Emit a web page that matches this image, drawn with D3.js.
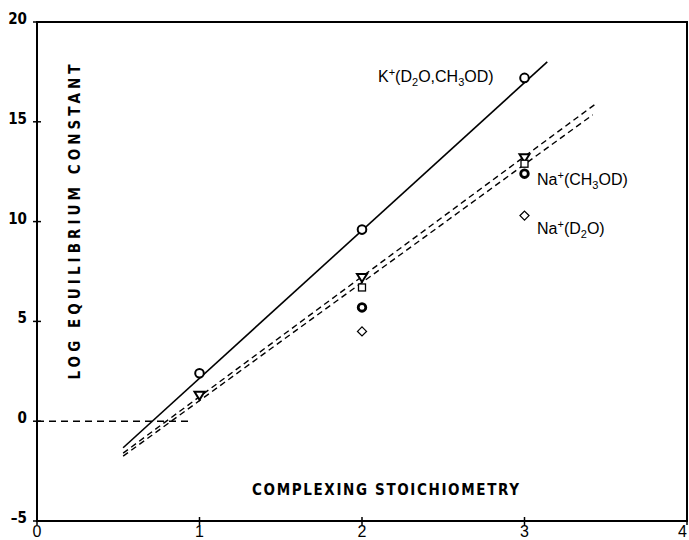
<!DOCTYPE html>
<html lang="en">
<head>
  <meta charset="utf-8">
  <script src="https://d3js.org/d3.v7.min.js"></script>
  <style>
    body { margin: 0; background: #fff; }
    .tickY { font-family: "Liberation Sans Narrow", "DejaVu Sans Condensed", sans-serif; font-weight: bold; font-size: 15px; }
    .tickX { font-family: "Liberation Sans", sans-serif; font-size: 16px; }
    .axisTitle { font-family: "Liberation Sans Narrow", "DejaVu Sans Condensed", sans-serif; font-weight: bold; font-size: 15px; }
    .note { font-family: "Liberation Sans", sans-serif; font-size: 16px; }
  </style>
</head>
<body>
  <script>
    // tick labels
    var xTicks = [0, 1, 2, 3, 4];
    var yTicks = [-5, 0, 5, 10, 15, 20];

    // measured points, [stoichiometry, log K]
    var kCircle = [[1, 2.4], [2, 9.6], [3, 17.2]];
    var naTriangle = [[1, 1.3], [2, 7.2], [3, 13.2]];
    var naSquare = [[2, 6.7], [3, 12.9]];
    var naBoldCircle = [[2, 5.7], [3, 12.4]];
    var naDiamond = [[2, 4.5], [3, 10.3]];

    // fitted lines
    var kLine = [[0.53, -1.33], [3.14, 18.0]];
    var naLineUpper = [[0.53, -1.6], [3.43, 15.85]];
    var naLineLower = [[0.53, -1.75], [3.42, 15.35]];
    var zeroLine = [[0, 0], [0.95, 0]];

    // labels
    var labels = [
      { x: 378, y: 77, parts: [["K", ""], ["+", "sup"], ["(D", ""], ["2", "sub"], ["O,CH", ""], ["3", "sub"], ["OD)", ""]] },
      { x: 537, y: 180, parts: [["Na", ""], ["+", "sup"], ["(CH", ""], ["3", "sub"], ["OD)", ""]] },
      { x: 537, y: 229, parts: [["Na", ""], ["+", "sup"], ["(D", ""], ["2", "sub"], ["O)", ""]] }
    ];

    var dim = { width: 689, height: 540, left: 37, right: 687, top: 22, bottom: 521 };

    var svg = d3.select("body").append("svg")
      .attr("width", dim.width)
      .attr("height", dim.height);

    var x = d3.scaleLinear().domain([0, 4]).range([dim.left, dim.right]);
    var y = d3.scaleLinear().domain([-5, 20]).range([dim.bottom, dim.top]);

    // frame
    svg.append("rect")
      .attr("x", x(0)).attr("y", y(20))
      .attr("width", x(4) - x(0)).attr("height", y(-5) - y(20))
      .attr("fill", "none").attr("stroke", "#000").attr("stroke-width", 2);

    // cross ticks on the axes
    svg.selectAll(".ty").data(yTicks).enter().append("line")
      .attr("x1", x(0) - 4).attr("x2", x(0) + 4)
      .attr("y1", d => y(d)).attr("y2", d => y(d))
      .attr("stroke", "#000").attr("stroke-width", 1.5);
    svg.selectAll(".tx").data(xTicks).enter().append("line")
      .attr("x1", d => x(d)).attr("x2", d => x(d))
      .attr("y1", y(-5) - 4).attr("y2", y(-5) + 4)
      .attr("stroke", "#000").attr("stroke-width", 1.5);

    // tick labels
    svg.selectAll(".lblY").data(yTicks).enter().append("text")
      .attr("class", "tickY")
      .attr("x", x(0) - 10)
      .attr("y", d => y(d) + 2)
      .attr("text-anchor", "end")
      .text(d => d < 0 ? "\u2013" + Math.abs(d) : d);
    svg.selectAll(".lblX").data(xTicks).enter().append("text")
      .attr("class", "tickX")
      .attr("x", d => d === 4 ? x(d) : x(d))
      .attr("y", 537)
      .attr("text-anchor", d => d === 4 ? "end" : "middle")
      .text(d => d);

    // axis titles
    svg.append("text")
      .attr("class", "axisTitle")
      .attr("transform", "translate(80,222) rotate(-90)")
      .attr("text-anchor", "middle")
      .attr("textLength", 315).attr("lengthAdjust", "spacing")
      .text("LOG EQUILIBRIUM CONSTANT");
    svg.append("text")
      .attr("class", "axisTitle")
      .attr("x", 252).attr("y", 495)
      .attr("textLength", 267).attr("lengthAdjust", "spacing")
      .text("COMPLEXING STOICHIOMETRY");

    var line = d3.line().x(d => x(d[0])).y(d => y(d[1]));

    svg.append("path").datum(kLine).attr("d", line)
      .attr("fill", "none").attr("stroke", "#000").attr("stroke-width", 1.6);
    [naLineUpper, naLineLower].forEach(function(l) {
      svg.append("path").datum(l).attr("d", line)
        .attr("fill", "none").attr("stroke", "#000").attr("stroke-width", 1.4)
        .attr("stroke-dasharray", "6,4");
    });
    svg.append("path").datum(zeroLine).attr("d", line)
      .attr("fill", "none").attr("stroke", "#000").attr("stroke-width", 1.4)
      .attr("stroke-dasharray", "7,5");

    // markers
    svg.selectAll(".kc").data(kCircle).enter().append("circle")
      .attr("cx", d => x(d[0])).attr("cy", d => y(d[1])).attr("r", 4.3)
      .attr("fill", "#fff").attr("stroke", "#000").attr("stroke-width", 2);
    svg.selectAll(".nbc").data(naBoldCircle).enter().append("circle")
      .attr("cx", d => x(d[0])).attr("cy", d => y(d[1])).attr("r", 3.8)
      .attr("fill", "#fff").attr("stroke", "#000").attr("stroke-width", 2.8);
    svg.selectAll(".nt").data(naTriangle).enter().append("path")
      .attr("d", d => {
        var cx = x(d[0]), cy = y(d[1]);
        return "M" + (cx - 5) + "," + (cy - 3.5) + "L" + (cx + 5) + "," + (cy - 3.5) + "L" + cx + "," + (cy + 4.5) + "Z";
      })
      .attr("fill", "#fff").attr("stroke", "#000").attr("stroke-width", 2);
    svg.selectAll(".ns").data(naSquare).enter().append("rect")
      .attr("x", d => x(d[0]) - 3.5).attr("y", d => y(d[1]) - 3.5)
      .attr("width", 7).attr("height", 7)
      .attr("fill", "#fff").attr("stroke", "#000").attr("stroke-width", 1.3);
    svg.selectAll(".nd").data(naDiamond).enter().append("path")
      .attr("d", d => {
        var cx = x(d[0]), cy = y(d[1]);
        return "M" + cx + "," + (cy - 4.5) + "L" + (cx + 4.5) + "," + cy + "L" + cx + "," + (cy + 4.5) + "L" + (cx - 4.5) + "," + cy + "Z";
      })
      .attr("fill", "#fff").attr("stroke", "#000").attr("stroke-width", 1.3);

    // annotations with sub/superscripts
    var shift = { sup: -6, sub: 4, "": 0 };
    labels.forEach(function(lb) {
      var t = svg.append("text").attr("class", "note")
        .attr("x", lb.x).attr("y", lb.y + 5);
      lb.parts.forEach(function(p, i) {
        var prev = i > 0 ? lb.parts[i - 1][1] : "";
        var s = t.append("tspan").text(p[0])
          .attr("dy", shift[p[1]] - shift[prev]);
        if (p[1] !== "") s.attr("font-size", "11px");
      });
    });
  </script>
</body>
</html>
